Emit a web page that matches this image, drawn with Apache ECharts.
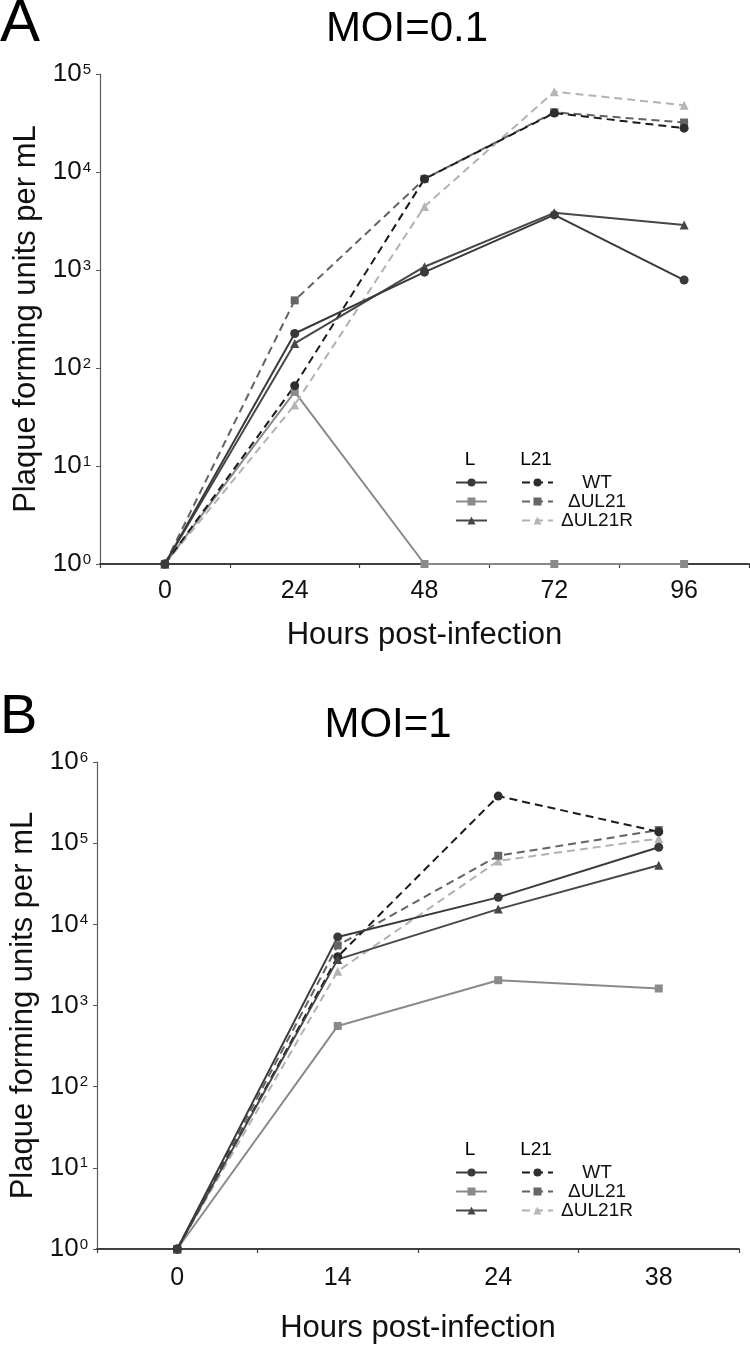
<!DOCTYPE html>
<html><head><meta charset="utf-8">
<script src="https://cdn.jsdelivr.net/npm/echarts@6/dist/echarts.min.js"></script>
<style>html,body{margin:0;padding:0;background:#fff}#c{width:750px;height:1345px}</style>
</head><body><div id="c"></div>
<script>
// ---- data ----
const hoursA = ['0', '24', '48', '72', '96'];
const hoursB = ['0', '14', '24', '38'];
// Panel A (MOI=0.1), plaque forming units per mL
const A_L_WT       = [1, 225, 950, 3650, 790];
const A_L_dUL21    = [1, 57, 1, 1, 1];
const A_L_dUL21R   = [1, 178, 1080, 3830, 2880];
const A_L21_WT     = [1, 66, 8500, 40000, 28000];
const A_L21_dUL21  = [1, 490, 8500, 40700, 32000];
const A_L21_dUL21R = [1, 42, 4450, 66000, 48000];
// Panel B (MOI=1)
const B_L_WT       = [1, 7000, 21500, 89000];
const B_L_dUL21    = [1, 560, 2050, 1620];
const B_L_dUL21R   = [1, 3700, 15400, 53500];
const B_L21_WT     = [1, 4000, 380000, 138000];
const B_L21_dUL21  = [1, 5500, 70000, 145000];
const B_L21_dUL21R = [1, 2650, 60500, 114000];

const FONT = "'Liberation Sans', Arial, Helvetica, sans-serif";

const styles = {
  'L WT':        {line: '#3a3a3a', item: '#3a3a3a', symbol: 'circle',   size: 9, type: 'solid'},
  'L ΔUL21':     {line: '#8a8a8a', item: '#8a8a8a', symbol: 'rect',     size: 8, type: 'solid'},
  'L ΔUL21R':    {line: '#474747', item: '#474747', symbol: 'triangle', size: 9, type: 'solid'},
  'L21 WT':      {line: '#1a1a1a', item: '#2e2e2e', symbol: 'circle',   size: 9, type: 'dashed'},
  'L21 ΔUL21':   {line: '#636363', item: '#666666', symbol: 'rect',     size: 8, type: 'dashed'},
  'L21 ΔUL21R':  {line: '#b2b2b2', item: '#b5b5b5', symbol: 'triangle', size: 9, type: 'dashed'}
};

function mk(name, data, g) {
  const s = styles[name];
  return {
    name: name, type: 'line', xAxisIndex: g, yAxisIndex: g, data: data,
    symbol: s.symbol, symbolSize: s.size, showSymbol: true,
    lineStyle: {color: s.line, width: 2, type: s.type === 'dashed' ? [8, 5] : 'solid'},
    itemStyle: {color: s.item},
    emphasis: {disabled: true}
  };
}

const supFmt = v => '{b|10}{s|' + Math.round(Math.log10(v)) + '}';

function yAxis(g, max, split) {
  return {
    type: 'log', gridIndex: g, min: 1, max: max, logBase: 10, splitNumber: split,
    name: 'Plaque forming units per mL', nameLocation: 'middle', nameGap: 58,
    nameTextStyle: {fontSize: 31, fontFamily: FONT, color: '#111'},
    axisLine: {show: true, lineStyle: {color: '#5a5a5a', width: 1.2}},
    axisTick: {show: true, length: 4, lineStyle: {color: '#5a5a5a'}},
    splitLine: {show: false}, minorTick: {show: false},
    axisLabel: {
      formatter: supFmt, margin: 9,
      rich: {
        b: {fontSize: 26, fontFamily: FONT, color: '#111', lineHeight: 30},
        s: {fontSize: 15, fontFamily: FONT, color: '#111', lineHeight: 15, verticalAlign: 'top', padding: [3, 0, 0, 1]}
      }
    }
  };
}

function xAxis(g, cats, gap, margin) {
  return {
    type: 'category', gridIndex: g, data: cats, boundaryGap: true,
    name: 'Hours post-infection', nameLocation: 'middle', nameGap: gap,
    nameTextStyle: {fontSize: 31, fontFamily: FONT, color: '#111'},
    axisLine: {show: true, onZero: false, lineStyle: {color: '#404040', width: 2}},
    axisTick: {show: true, alignWithLabel: false, length: 4, lineStyle: {color: '#404040', width: 1.2}},
    axisLabel: {fontSize: 25, fontFamily: FONT, color: '#111', margin: margin},
    splitLine: {show: false}
  };
}

function legends(top) {
  const base = {
    orient: 'vertical', itemWidth: 31, itemHeight: 10, itemGap: 0, padding: 0,
    selectedMode: false, top: top,
    textStyle: {fontSize: 19, lineHeight: 19, fontFamily: FONT, color: '#111'}
  };
  return [
    Object.assign({}, base, {left: 455, data: ['L WT', 'L ΔUL21', 'L ΔUL21R'], formatter: () => ' '}),
    Object.assign({}, base, {
      left: 521, data: ['L21 WT', 'L21 ΔUL21', 'L21 ΔUL21R'],
      formatter: n => '{t|' + n.replace('L21 ', '') + '}',
      textStyle: {fontSize: 19, lineHeight: 19, fontFamily: FONT, color: '#111',
        rich: {t: {width: 78, align: 'center', fontSize: 19, lineHeight: 19, fontFamily: FONT, color: '#111'}}}
    })
  ];
}

function ttl(text, left, top, size) {
  return {text: text, left: left, top: top, textAlign: 'center', padding: 0,
    textStyle: {fontSize: size, fontWeight: 'normal', fontFamily: FONT, color: '#000'}};
}

const chart = echarts.init(document.getElementById('c'), null, {renderer: 'canvas'});
chart.setOption({
  animation: false,
  backgroundColor: '#fff',
  title: [
    {text: 'A', left: 0, top: -6, padding: 0, textStyle: {fontSize: 60, fontWeight: 'normal', fontFamily: FONT, color: '#000'}},
    ttl('MOI=0.1', 407, 8, 42),
    ttl('L', 470, 450, 19),
    ttl('L21', 536, 450, 19),
    {text: 'B', left: 0, top: 690, padding: 0, textStyle: {fontSize: 56, fontWeight: 'normal', fontFamily: FONT, color: '#000'}},
    ttl('MOI=1', 388, 704, 42),
    ttl('L', 470, 1140, 19),
    ttl('L21', 536, 1140, 19)
  ],
  legend: legends(473).concat(legends(1163)),
  grid: [
    {left: 100, right: 1, top: 74, bottom: 781, containLabel: false, outerBoundsMode: 'none'},
    {left: 97, right: 11, top: 762, bottom: 96, containLabel: false, outerBoundsMode: 'none'}
  ],
  xAxis: [xAxis(0, hoursA, 56, 15), xAxis(1, hoursB, 64, 17)],
  yAxis: [yAxis(0, 1e5, 5), yAxis(1, 1e6, 6)],
  series: [
    mk('L ΔUL21', A_L_dUL21, 0),
    mk('L21 ΔUL21R', A_L21_dUL21R, 0),
    mk('L21 ΔUL21', A_L21_dUL21, 0),
    mk('L21 WT', A_L21_WT, 0),
    mk('L ΔUL21R', A_L_dUL21R, 0),
    mk('L WT', A_L_WT, 0),
    mk('L ΔUL21', B_L_dUL21, 1),
    mk('L21 ΔUL21R', B_L21_dUL21R, 1),
    mk('L21 ΔUL21', B_L21_dUL21, 1),
    mk('L21 WT', B_L21_WT, 1),
    mk('L ΔUL21R', B_L_dUL21R, 1),
    mk('L WT', B_L_WT, 1)
  ]
});
</script>
</body></html>
